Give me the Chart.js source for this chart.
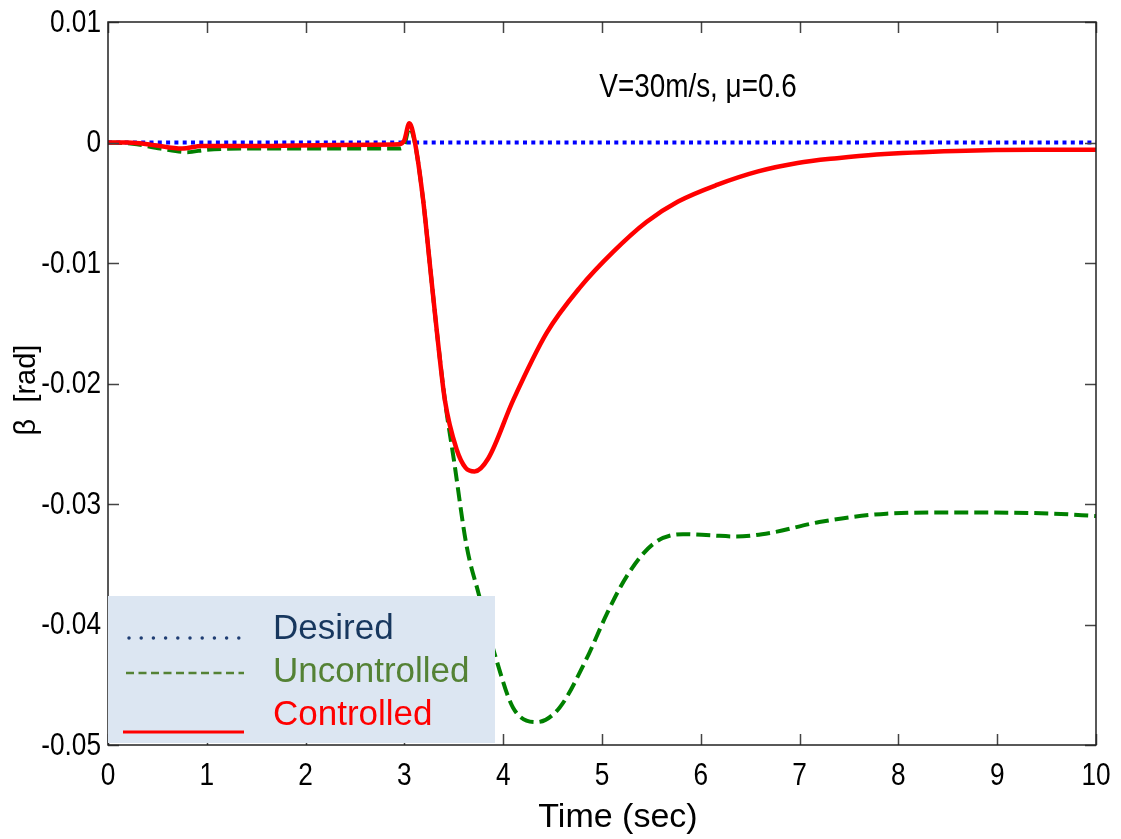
<!DOCTYPE html>
<html>
<head>
<meta charset="utf-8">
<script src="https://cdn.jsdelivr.net/npm/chart.js@4.4.1/dist/chart.umd.min.js"></script>
<style>
  html, body { margin: 0; padding: 0; background: #fff; }
  canvas { display: block; }
</style>
</head>
<body>
<canvas id="betaChart" width="1121" height="839"></canvas>
<script>
// β response, V=30m/s, μ=0.6

// --- data ---
const timeDesired = [0, 10];
const betaDesired = [0, 0];

const timeUncontrolled = [0, 0.25, 0.53, 0.8, 1.0, 1.5, 2.95, 3.0, 3.05, 3.1, 3.19, 3.26, 3.33, 3.41, 3.5, 3.63, 3.75, 3.93, 4.1, 4.34, 4.57, 4.84, 5.05, 5.25, 5.52, 5.82, 6.1, 6.36, 6.7, 7.2, 7.88, 8.55, 9.57, 10];
const betaUncontrolled = [0, -0.0001, -0.0005, -0.0008, -0.0006, -0.0005, -0.0005, -0.0002, 0.0012, 0.0002, -0.0048, -0.0103, -0.0158, -0.0214, -0.0263, -0.0335, -0.0374, -0.0429, -0.0469, -0.0481, -0.0469, -0.0429, -0.0391, -0.0360, -0.0333, -0.0325, -0.0326, -0.0327, -0.0324, -0.0315, -0.0308, -0.0307, -0.0308, -0.0310];

const timeControlled = [0, 0.2, 0.45, 0.75, 0.95, 1.5, 2.3, 2.95, 3.0, 3.05, 3.1, 3.19, 3.26, 3.33, 3.41, 3.53, 3.62, 3.71, 3.85, 4.1, 4.44, 4.78, 5.11, 5.45, 5.77, 6.17, 6.58, 6.98, 7.38, 7.78, 8.58, 9.38, 10];
const betaControlled = [0, 0, -0.0002, -0.0005, -0.0003, -0.0003, -0.0002, -0.00015, 0.0002, 0.0016, 0.0003, -0.0048, -0.0103, -0.0158, -0.0214, -0.0255, -0.0270, -0.0273, -0.0262, -0.0214, -0.0158, -0.0120, -0.0091, -0.0066, -0.0049, -0.0035, -0.0024, -0.0017, -0.0013, -0.0010, -0.0007, -0.0006, -0.0006];

const xTicks = [0, 1, 2, 3, 4, 5, 6, 7, 8, 9, 10];
const yTicks = [0.01, 0, -0.01, -0.02, -0.03, -0.04, -0.05];
const yTickLabels = ['0.01', '0', '-0.01', '-0.02', '-0.03', '-0.04', '-0.05'];

const legendLabels = ['Desired', 'Uncontrolled', 'Controlled'];
const annotationText = 'V=30m/s, \u03bc=0.6';

const toPoints = (ts, vs) => ts.map((t, i) => ({ x: t, y: vs[i] }));

const FONT = "'Liberation Sans', Arial, sans-serif";
const SQUEEZE = 0.82;   // 元図の数字は細め

function squeezedText(ctx, text, x, y) {
    ctx.save();
    ctx.translate(x, y);
    ctx.scale(SQUEEZE, 1);
    ctx.fillText(text, 0, 0);
    ctx.restore();
}

// 枠・内向き目盛・目盛ラベル・タイトル・注記・凡例
const decorPlugin = {
    id: 'decor',
    afterDatasetsDraw(chart) {
        const { ctx, chartArea: a, scales } = chart;
        const xs = scales.x, ys = scales.y;
        const tl = 11;
        ctx.save();

        // inward ticks
        ctx.strokeStyle = '#444';
        ctx.lineWidth = 1.5;
        ctx.beginPath();
        xTicks.forEach(v => {
            const px = Math.round(xs.getPixelForValue(v)) + 0.5;
            ctx.moveTo(px, a.bottom); ctx.lineTo(px, a.bottom - tl);
            ctx.moveTo(px, a.top); ctx.lineTo(px, a.top + tl);
        });
        yTicks.forEach(v => {
            const py = Math.round(ys.getPixelForValue(v)) + 0.5;
            ctx.moveTo(a.left, py); ctx.lineTo(a.left + tl, py);
            ctx.moveTo(a.right, py); ctx.lineTo(a.right - tl, py);
        });
        ctx.stroke();

        // frame
        ctx.strokeStyle = '#222';
        ctx.lineWidth = 1.5;
        ctx.strokeRect(a.left, a.top, a.right - a.left, a.bottom - a.top);

        // tick labels
        ctx.fillStyle = '#000';
        ctx.font = "32px " + FONT;
        ctx.textBaseline = 'middle';
        ctx.textAlign = 'right';
        yTicks.forEach((v, i) => {
            squeezedText(ctx, yTickLabels[i], a.left - 7, ys.getPixelForValue(v) + 1);
        });
        ctx.textAlign = 'center';
        xTicks.forEach(v => {
            squeezedText(ctx, String(v), xs.getPixelForValue(v), a.bottom + 31);
        });

        // annotation
        ctx.font = "34px " + FONT;
        ctx.textBaseline = 'alphabetic';
        squeezedText(ctx, annotationText, 698, 97);

        // axis titles
        ctx.font = "34px " + FONT;
        ctx.fillText('Time (sec)', 618, 827);
        ctx.save();
        ctx.translate(35, 390);
        ctx.rotate(-Math.PI / 2);
        ctx.font = "29px " + FONT;
        ctx.fillText('\u03b2  [rad]', 0, 0);
        ctx.restore();

        // legend box
        ctx.fillStyle = '#dce6f2';
        ctx.fillRect(108, 596, 387, 147);

        const sampleY = [638, 673, 732];
        const textY = [639, 682, 725];
        const textColors = ['#17375e', '#548235', '#ff0000'];

        ctx.lineCap = 'round';
        ctx.strokeStyle = '#1f3d73';
        ctx.lineWidth = 3.5;
        ctx.setLineDash([0, 12.2]);
        ctx.beginPath(); ctx.moveTo(129, sampleY[0]); ctx.lineTo(240, sampleY[0]); ctx.stroke();

        ctx.lineCap = 'butt';
        ctx.strokeStyle = '#548235';
        ctx.lineWidth = 2.5;
        ctx.setLineDash([8, 4.5]);
        ctx.beginPath(); ctx.moveTo(126, sampleY[1]); ctx.lineTo(244, sampleY[1]); ctx.stroke();

        ctx.strokeStyle = '#ff0000';
        ctx.lineWidth = 3;
        ctx.setLineDash([]);
        ctx.beginPath(); ctx.moveTo(123, sampleY[2]); ctx.lineTo(244, sampleY[2]); ctx.stroke();

        ctx.font = "35px " + FONT;
        ctx.textAlign = 'left';
        legendLabels.forEach((lbl, i) => {
            ctx.fillStyle = textColors[i];
            ctx.fillText(lbl, 273, textY[i]);
        });

        ctx.restore();
    }
};

const chart = new Chart(document.getElementById('betaChart'), {
    type: 'line',
    data: {
        datasets: [
            {
                label: legendLabels[2],
                data: toPoints(timeControlled, betaControlled),
                borderColor: '#ff0000',
                borderWidth: 4.5,
                cubicInterpolationMode: 'monotone',
                pointRadius: 0
            },
            {
                label: legendLabels[0],
                data: toPoints(timeDesired, betaDesired),
                borderColor: '#0000ff',
                borderWidth: 4,
                borderDash: [4, 4.3],
                pointRadius: 0
            },
            {
                label: legendLabels[1],
                data: toPoints(timeUncontrolled, betaUncontrolled),
                borderColor: '#008000',
                borderWidth: 4,
                borderDash: [14, 6],
                cubicInterpolationMode: 'monotone',
                pointRadius: 0
            }
        ]
    },
    options: {
        responsive: false,
        animation: false,
        layout: { padding: { top: 22, right: 25, left: 0, bottom: 0 } },
        plugins: {
            legend: { display: false },
            tooltip: { enabled: false }
        },
        scales: {
            x: {
                type: 'linear',
                min: 0,
                max: 10,
                afterFit: s => { s.height = 94; },
                afterBuildTicks: s => { s.ticks = xTicks.map(v => ({ value: v })); },
                grid: { display: false, drawTicks: false },
                border: { display: false },
                ticks: { display: false }
            },
            y: {
                type: 'linear',
                min: -0.05,
                max: 0.01,
                afterFit: s => { s.width = 108; },
                afterBuildTicks: s => { s.ticks = yTicks.map(v => ({ value: v })); },
                grid: { display: false, drawTicks: false },
                border: { display: false },
                ticks: { display: false }
            }
        }
    },
    plugins: [decorPlugin]
});
</script>
</body>
</html>
